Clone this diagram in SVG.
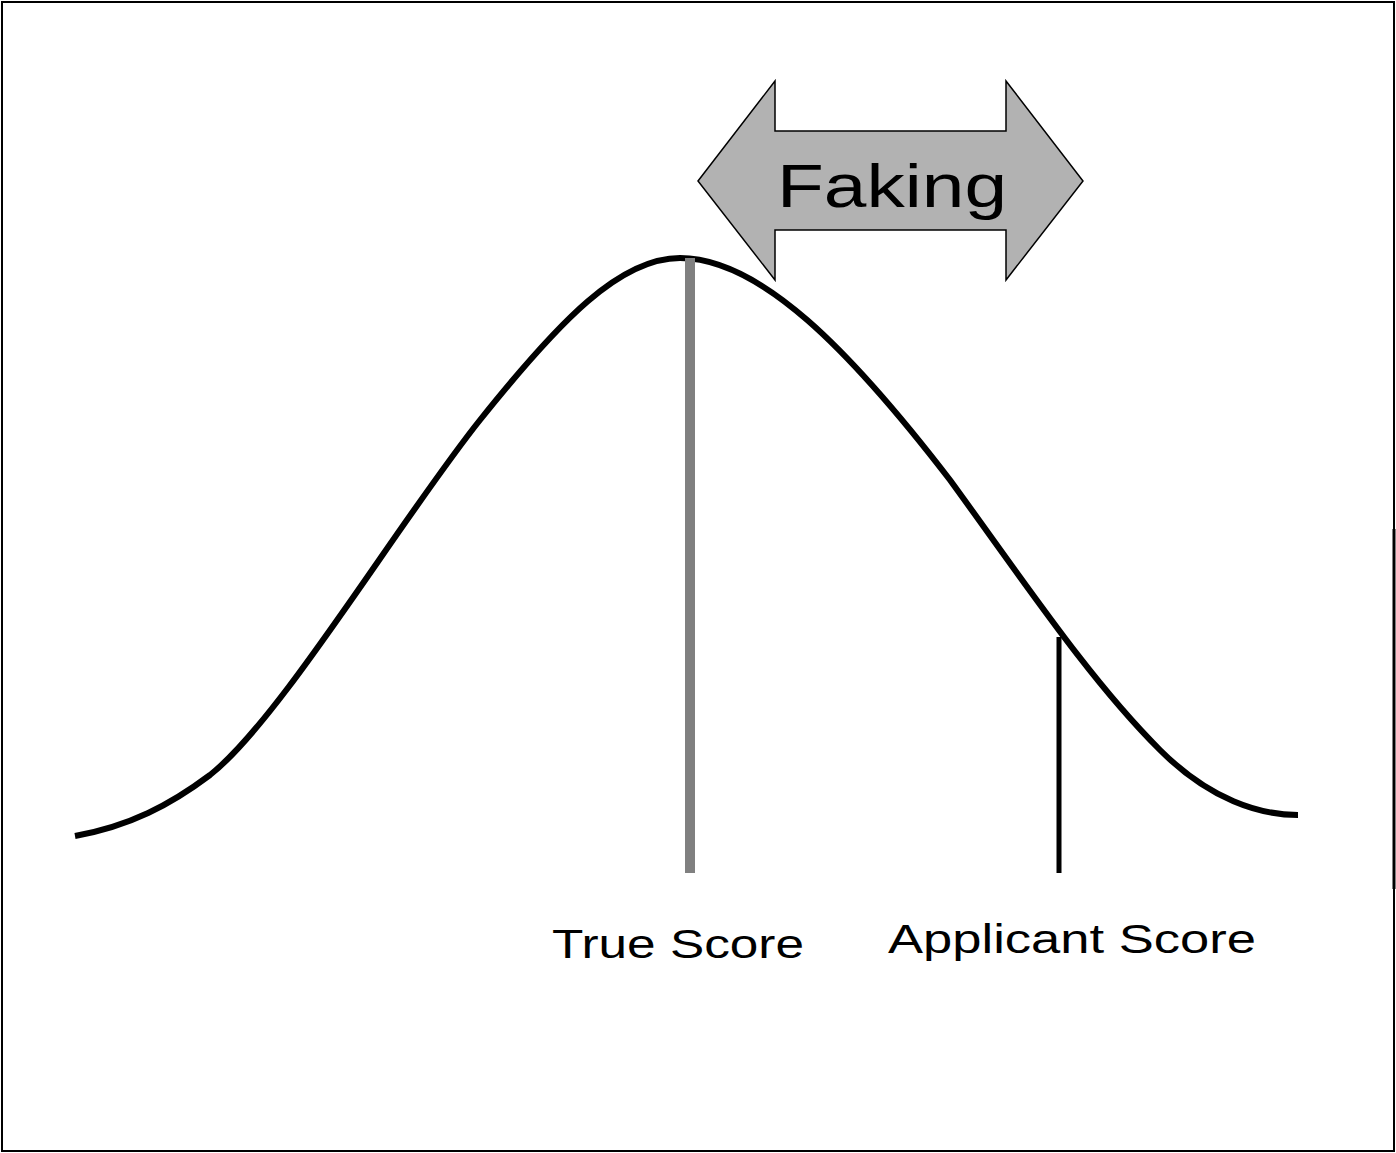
<svg xmlns="http://www.w3.org/2000/svg" width="1396" height="1153" viewBox="0 0 1396 1153">
<style>
.lbl{font-family:"Liberation Sans",Arial,sans-serif;fill:#000}
.curve{fill:none;stroke:#000;stroke-width:6}
</style>
<rect x="0" y="0" width="1396" height="1153" fill="#fff"/>
<rect x="2" y="2" width="1392" height="1149" fill="none" stroke="#000" stroke-width="2"/>
<line x1="1394" y1="529" x2="1394" y2="889" stroke="#000" stroke-width="3"/>
<g id="curve">
<path class="curve" d="M75,836 C130,826 170,805 210,775 C280,720 400,520 480,420 C560,320 620,258 680,258 C760,258 850,350 950,480 C1030,590 1090,680 1160,750 C1210,800 1260,815 1298,815"/>
</g>
<g id="connectors">
<line x1="690" y1="258" x2="690" y2="873" stroke="#808080" stroke-width="10"/>
<line x1="1059" y1="637" x2="1059" y2="873" stroke="#000" stroke-width="5"/>
</g>
<g id="faking">
<polygon points="698,181 775,81 775,131 1006,131 1006,81 1083,181 1006,280 1006,230 775,230 775,280" fill="#b2b2b2" stroke="#000" stroke-width="1.5"/>
<text class="lbl" x="777" y="207" font-size="61" textLength="230" lengthAdjust="spacingAndGlyphs">Faking</text>
</g>
<g id="true-score">
<text class="lbl" x="552" y="958" font-size="41" textLength="252" lengthAdjust="spacingAndGlyphs">True Score</text>
</g>
<g id="applicant-score">
<text class="lbl" x="888" y="953" font-size="41" textLength="368" lengthAdjust="spacingAndGlyphs">Applicant Score</text>
</g>
</svg>
